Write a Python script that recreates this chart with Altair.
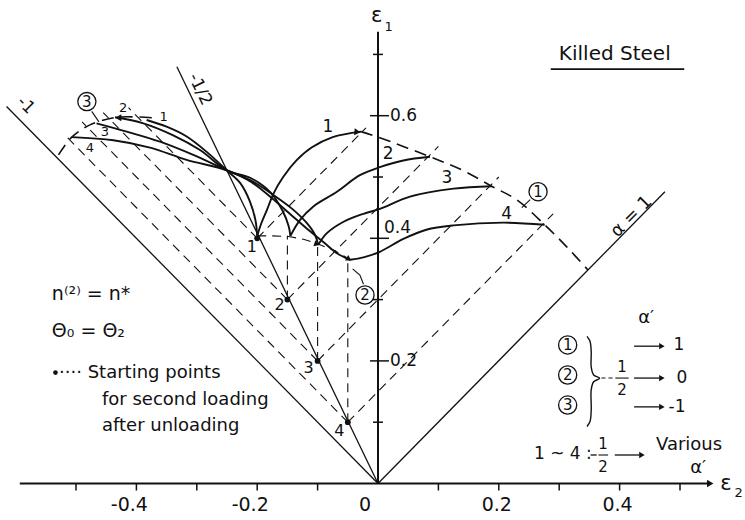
import altair as alt
import pandas as pd

# ---------------- page geometry ----------------
W, H = 745, 520
X0_PX, Y0_PX = 378.0, 483.5      # pixel position of the origin
PX_X, PX_Y = 604.0, 613.0        # pixels per unit of strain
XMIN, XMAX = -X0_PX / PX_X, (W - X0_PX) / PX_X
YMIN, YMAX = (Y0_PX - H) / PX_Y, Y0_PX / PX_Y
INK = "#111111"
FONT = "DejaVu Sans"

def ux(p):  # pixels -> strain units (x)
    return p / PX_X

def uy(p):  # pixels -> strain units (y)
    return p / PX_Y

# ---------------- data ----------------
# straight strain-ratio lines from the origin (alpha = -1, -1/2, 1)
ref_names = ["-1", "-1/2", "1"]
ref_end_x = [-0.615, -0.333, 0.475]
ref_end_y = [0.615, 0.680, 0.476]

# starting points for second loading (on alpha = -1/2)
start_id = ["1", "2", "3", "4"]
start_x = [-0.20, -0.15, -0.10, -0.05]
start_y = [0.40, 0.30, 0.20, 0.10]

# upper ends of the vertical dashed lines (alpha' = 0 reference)
vert_top_y = [0.404, 0.404, 0.390, 0.365]

# ends of the 45 deg dashed lines (alpha' = 1 and alpha' = -1 references)
ur_end_x = [-0.020, 0.100, 0.200, 0.290]
ur_end_y = [0.580, 0.550, 0.500, 0.440]
ul_end_x = [-0.413, -0.455, -0.490, -0.515]
ul_end_y = [0.613, 0.605, 0.590, 0.565]

# dashed curve (2) through the tops
c2_x = [-0.200, -0.175, -0.148, -0.122, -0.100, -0.072, -0.046]
c2_y = [0.404, 0.404, 0.403, 0.398, 0.391, 0.380, 0.365]

# large dashed contour (left and right parts)
contL_x = [-0.529, -0.507, -0.477, -0.435, -0.400, -0.366]
contL_y = [0.536, 0.565, 0.585, 0.597, 0.598, 0.596]
contR_x = [-0.028, 0.003, 0.086, 0.140, 0.188, 0.230, 0.276, 0.3125, 0.348]
contR_y = [0.574, 0.564, 0.533, 0.511, 0.485, 0.4625, 0.422, 0.386, 0.348]

# family (1): alpha' = 1
f1_1x = [-0.200, -0.193, -0.184, -0.173, -0.157, -0.135, -0.110, -0.075, -0.028]
f1_1y = [0.404, 0.425, 0.446, 0.473, 0.500, 0.527, 0.548, 0.565, 0.574]
f1_2x = [-0.145, -0.129, -0.107, -0.068, -0.030, 0.003, 0.042, 0.086]
f1_2y = [0.404, 0.430, 0.452, 0.476, 0.503, 0.516, 0.527, 0.533]
f1_3x = [-0.099, -0.085, -0.057, -0.024, 0.003, 0.053, 0.125, 0.188]
f1_3y = [0.389, 0.408, 0.427, 0.440, 0.448, 0.468, 0.481, 0.485]
f1_4x = [-0.046, -0.024, 0.003, 0.042, 0.080, 0.125, 0.2075, 0.276]
f1_4y = [0.365, 0.369, 0.378, 0.399, 0.414, 0.421, 0.4255, 0.422]

# family (3): alpha' = -1
f3_1x = [-0.200, -0.203, -0.212, -0.228, -0.2505, -0.2836, -0.3168, -0.350, -0.383]
f3_1y = [0.404, 0.430, 0.460, 0.490, 0.511, 0.541, 0.566, 0.582, 0.593]
f3_2x = [-0.145, -0.148, -0.158, -0.178, -0.210, -0.2505, -0.2947, -0.339, -0.3886, -0.4354]
f3_2y = [0.404, 0.420, 0.445, 0.475, 0.498, 0.511, 0.544, 0.568, 0.5876, 0.5974]
f3_3x = [-0.099, -0.104, -0.118, -0.142, -0.175, -0.210, -0.2505, -0.3058, -0.361, -0.416, -0.466]
f3_3y = [0.389, 0.405, 0.425, 0.448, 0.472, 0.494, 0.511, 0.536, 0.5576, 0.574, 0.5875]
f3_4x = [-0.046, -0.068, -0.0905, -0.118, -0.146, -0.175, -0.210, -0.2505, -0.3168, -0.3775, -0.4382, -0.507]
f3_4y = [0.3646, 0.3755, 0.394, 0.416, 0.440, 0.465, 0.492, 0.511, 0.528, 0.548, 0.560, 0.565]

# axis ticks and labels
x_tick_vals = [-0.5, -0.4, -0.3, -0.2, -0.1, 0.1, 0.2, 0.3, 0.4, 0.5]
x_label_vals = [-0.4, -0.2, 0.0, 0.2, 0.4]
x_label_txt = ["-0.4", "-0.2", "0", "0.2", "0.4"]
y_minor_vals = [0.1, 0.3, 0.5, 0.7]
y_major_vals = [0.2, 0.4, 0.6]
y_label_txt = ["0.2", "0.4", "0.6"]

# legend brace outline
brace_x = [0.346, 0.351, 0.353, 0.353, 0.357, 0.367, 0.357, 0.353, 0.353, 0.351, 0.346]
brace_y = [0.240, 0.232, 0.215, 0.190, 0.177, 0.1716, 0.166, 0.153, 0.120, 0.101, 0.093]

# ---------------- helpers ----------------
xs = alt.Scale(domain=[XMIN, XMAX], nice=False, zero=False)
ys = alt.Scale(domain=[YMIN, YMAX], nice=False, zero=False)
EX = alt.X("x:Q", scale=xs, axis=None)
EY = alt.Y("y:Q", scale=ys, axis=None)


def paths(groups):
    rows = []
    for gid, (gx, gy) in groups.items():
        for i, (a, b) in enumerate(zip(gx, gy)):
            rows.append({"id": gid, "i": i, "x": a, "y": b})
    return pd.DataFrame(rows)


def lines(df, width=1.2, dash=None, interp="linear"):
    kw = dict(color=INK, strokeWidth=width, interpolate=interp, strokeCap="butt")
    if dash:
        kw["strokeDash"] = dash
    return alt.Chart(df).mark_line(**kw).encode(
        x=EX, y=EY, detail="id:N", order="i:Q")


def texts(items, size=17, align="center", baseline="middle", angle=0, dx=0, dy=0,
          weight="normal"):
    df = pd.DataFrame(items, columns=["x", "y", "t"])
    return alt.Chart(df).mark_text(
        font=FONT, fontSize=size, align=align, baseline=baseline, angle=angle,
        dx=dx, dy=dy, color=INK, fontWeight=weight).encode(x=EX, y=EY, text="t:N")


def heads(items, shape="triangle-right", size=45, angle=0):
    df = pd.DataFrame(items, columns=["x", "y"])
    return alt.Chart(df).mark_point(
        shape=shape, filled=True, size=size, angle=angle, color=INK, opacity=1,
        strokeWidth=0).encode(x=EX, y=EY)


def rules(items, width=1.2, dash=None):
    df = pd.DataFrame(items, columns=["x", "y", "x2", "y2"])
    kw = dict(color=INK, strokeWidth=width)
    if dash:
        kw["strokeDash"] = dash
    return alt.Chart(df).mark_rule(**kw).encode(
        x=EX, y=EY, x2="x2:Q", y2="y2:Q")


layers = []

# ---------------- axes ----------------
layers.append(rules([(-0.593, 0, 0.548, 0)], width=2))
layers.append(rules([(0, 0, 0, 0.737)], width=2))
layers.append(heads([(0.550, 0)], size=55))
layers.append(rules([(v, 0, v, -uy(7)) for v in x_tick_vals], width=1.5))
layers.append(rules([(-ux(5), v, ux(5), v) for v in y_minor_vals], width=1.5))
layers.append(rules([(-ux(8), v, ux(11), v) for v in y_major_vals], width=1.5))
xl = list(zip(x_label_vals, [-uy(21)] * 5, x_label_txt))
layers.append(texts([xl[0], xl[1]], size=19, dx=-7))
layers.append(texts([xl[2]], size=19, dx=-13))
layers.append(texts([xl[3], xl[4]], size=19, dx=-2))
yl = list(zip([ux(12)] * 3, y_major_vals, y_label_txt))
layers.append(texts([yl[0], yl[2]], size=17, align="left"))
layers.append(texts([yl[1]], size=17, align="left", dx=-6, dy=-10))
layers.append(texts([(-0.002, 0.762, "ε")], size=21))
layers.append(texts([(0.0175, 0.745, "1")], size=13))
layers.append(texts([(0.576, -0.001, "ε")], size=21))
layers.append(texts([(0.597, -0.015, "2")], size=13))

# ---------------- reference lines from origin ----------------
ref = {n: ([0.0, ex], [0.0, ey]) for n, ex, ey in zip(ref_names, ref_end_x, ref_end_y)}
layers.append(lines(paths(ref), width=1.3))
layers.append(texts([(-0.583, 0.617, "-1")], size=17, angle=45))
layers.append(texts([(-0.2947, 0.643, "-1/2")], size=17, angle=64))
layers.append(texts([(0.42, 0.435, "α = 1")], size=18, angle=315))

# ---------------- dashed reference paths ----------------
dash_groups = {}
for k in range(4):
    dash_groups["ur" + start_id[k]] = ([start_x[k], ur_end_x[k]], [start_y[k], ur_end_y[k]])
    dash_groups["ul" + start_id[k]] = ([start_x[k], ul_end_x[k]], [start_y[k], ul_end_y[k]])
    if k > 0:
        dash_groups["v" + start_id[k]] = ([start_x[k], start_x[k]], [start_y[k], vert_top_y[k]])
dash_groups["c2"] = (c2_x, c2_y)
layers.append(lines(paths(dash_groups), width=1.1, dash=[9, 6]))
layers.append(heads([(-0.101, 0.3905)], size=40, angle=18))
layers.append(heads([(-0.048, 0.366)], size=40, angle=30))

# big dashed contour
cont = {"L": (contL_x, contL_y), "R": (contR_x, contR_y)}
layers.append(lines(paths(cont), width=1.6, dash=[12, 7], interp="catmull-rom"))

# ---------------- strain paths ----------------
fam = {
    "a1": (f1_1x, f1_1y), "a2": (f1_2x, f1_2y), "a3": (f1_3x, f1_3y), "a4": (f1_4x, f1_4y),
    "c1": (f3_1x, f3_1y), "c2": (f3_2x, f3_2y), "c3": (f3_3x, f3_3y), "c4": (f3_4x, f3_4y),
}
layers.append(lines(paths(fam), width=1.9, interp="catmull-rom"))
layers.append(heads([(-0.034, 0.5735)], size=50, angle=5))
layers.append(heads([(-0.430, 0.5968)], shape="triangle-left", size=50, angle=0))

# starting points
sp = pd.DataFrame({"x": start_x, "y": start_y})
layers.append(alt.Chart(sp).mark_point(filled=True, size=34, color=INK, opacity=1)
              .encode(x=EX, y=EY))
layers.append(texts([(-0.209, 0.386, "1"), (-0.163, 0.292, "2"),
                     (-0.115, 0.189, "3"), (-0.064, 0.086, "4")], size=16))

# curve end numbers
layers.append(texts([(-0.083, 0.582, "1"), (0.017, 0.538, "2"),
                     (0.114, 0.499, "3"), (0.213, 0.439, "4")], size=17))
layers.append(texts([(-0.422, 0.613, "2"), (-0.355, 0.598, "1"),
                     (-0.452, 0.574, "3"), (-0.477, 0.548, "4")], size=13))

# circled family labels and leaders
circ = pd.DataFrame({"x": [-0.482, 0.265, -0.0215, 0.314, 0.314, 0.314],
                     "y": [0.623, 0.476, 0.3075, 0.226, 0.177, 0.128]})
layers.append(alt.Chart(circ).mark_point(shape="circle", filled=False, size=330,
                                         color=INK, opacity=1, strokeWidth=1.3)
              .encode(x=EX, y=EY))
layers.append(texts([(-0.482, 0.623, "3"), (0.265, 0.476, "1"), (-0.0215, 0.3075, "2"),
                     (0.314, 0.226, "1"), (0.314, 0.177, "2"), (0.314, 0.128, "3")],
                    size=15))
leaders = {
    "l3": ([-0.474, -0.462], [0.607, 0.590]),
    "l1": ([0.252, 0.238], [0.463, 0.450]),
    "l2": ([-0.024, -0.030, -0.042], [0.325, 0.340, 0.350]),
}
layers.append(lines(paths(leaders), width=1.1))

# ---------------- text annotations ----------------
layers.append(texts([(0.392, 0.700, "Killed Steel")], size=20))
layers.append(rules([(0.286, 0.676, 0.507, 0.676)], width=1.6))

layers.append(texts([(-0.540, 0.309, "n⁽²⁾ = n*")], size=19, align="left"))
layers.append(texts([(-0.540, 0.249, "Θ₀  = Θ₂")], size=19, align="left"))
layers.append(heads([(-0.534, 0.181)], shape="circle", size=22))
layers.append(texts([(-0.528, 0.181, "···· Starting points")], size=18, align="left"))
layers.append(texts([(-0.457, 0.136, "for second loading"),
                     (-0.457, 0.0946, "after unloading")], size=18, align="left"))

# legend on the right
layers.append(texts([(0.444, 0.270, "α′")], size=18))
layers.append(lines(paths({"brace": (brace_x, brace_y)}), width=1.4, interp="catmull-rom"))
layers.append(rules([(0.370, 0.172, 0.389, 0.172)], width=1.1, dash=[4, 3]))
layers.append(texts([(0.404, 0.1905, "1"), (0.404, 0.1525, "2")], size=15))
layers.append(rules([(0.393, 0.172, 0.415, 0.172)], width=1.1))
layers.append(rules([(0.424, v, 0.466, v) for v in [0.224, 0.172, 0.125]], width=1.3))
layers.append(heads([(0.470, v) for v in [0.224, 0.172, 0.125]], size=40))
layers.append(texts([(0.498, 0.226, "1"), (0.503, 0.172, "0"), (0.495, 0.125, "-1")],
                    size=17))

# bottom legend line
layers.append(texts([(0.306, 0.048, "1 ~ 4 :")], size=17))
layers.append(rules([(0.352, 0.0465, 0.362, 0.0465)], width=1.3))
layers.append(texts([(0.3725, 0.0645, "1"), (0.3725, 0.0275, "2")], size=15))
layers.append(rules([(0.365, 0.0465, 0.381, 0.0465)], width=1.1))
layers.append(rules([(0.392, 0.0465, 0.433, 0.0465)], width=1.3))
layers.append(heads([(0.437, 0.0465)], size=40))
layers.append(texts([(0.515, 0.063, "Various")], size=18))
layers.append(texts([(0.530, 0.026, "α′")], size=18))

chart = alt.layer(*layers).properties(
    width=W, height=H, padding=0,
    autosize=alt.AutoSizeParams(type="none"),
    background="white",
).configure_view(stroke=None)

chart.save("out.html", embed_options={"renderer": "svg", "actions": False})
